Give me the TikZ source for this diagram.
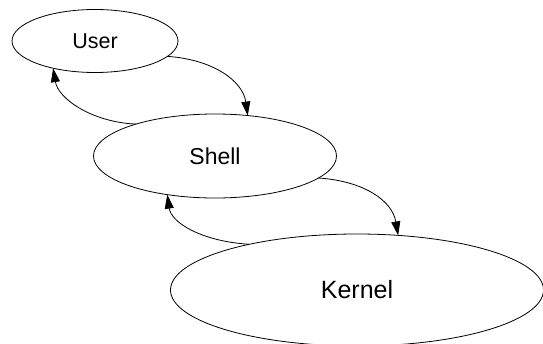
\documentclass[tikz,border=0pt]{standalone}
\usepackage{fontspec}
\setmainfont{Liberation Sans}
\usetikzlibrary{arrows.meta, shapes.geometric}
\usetikzlibrary{positioning}

\tikzset{
    layer/.style={draw, shape=ellipse, inner sep=0pt, outer sep=0pt, line width=0.8pt},
    flow/.style={-{Triangle[length=14pt,width=9pt]}, line width=0.8pt}
}

\begin{document}
\begin{tikzpicture}[x=1pt, y=1pt]

\useasboundingbox (0,0) rectangle (543,-343);

\node [layer,
    minimum width=166pt,
    minimum height=63pt,
    font=\fontsize{21.5}{25}\selectfont
] (user) at (95,-41) {User};

\node [layer,
    minimum width=243pt,
    minimum height=84pt,
    font=\fontsize{23}{27}\selectfont,
    on grid,
    below right=115pt and 120pt of user
] (shell) {Shell};

\node [layer,
    minimum width=373pt,
    minimum height=112pt,
    font=\fontsize{25}{30}\selectfont,
    on grid,
    below right=134pt and 142pt of shell
] (kernel) {Kernel};

% down the stack
\draw [flow] (user.-12) .. controls +(45,-3) and +(-5,35) .. (shell.51);
\draw [flow] (shell.-12) .. controls +(45,-3) and +(-6,35) .. (kernel.53);

% back up
\draw [flow] (shell.158) .. controls +(-45,2) and +(5,-30) .. (user.-147);
\draw [flow] (kernel.157) .. controls +(-48,3) and +(4,-28) .. (shell.-141);

\end{tikzpicture}
\end{document}
